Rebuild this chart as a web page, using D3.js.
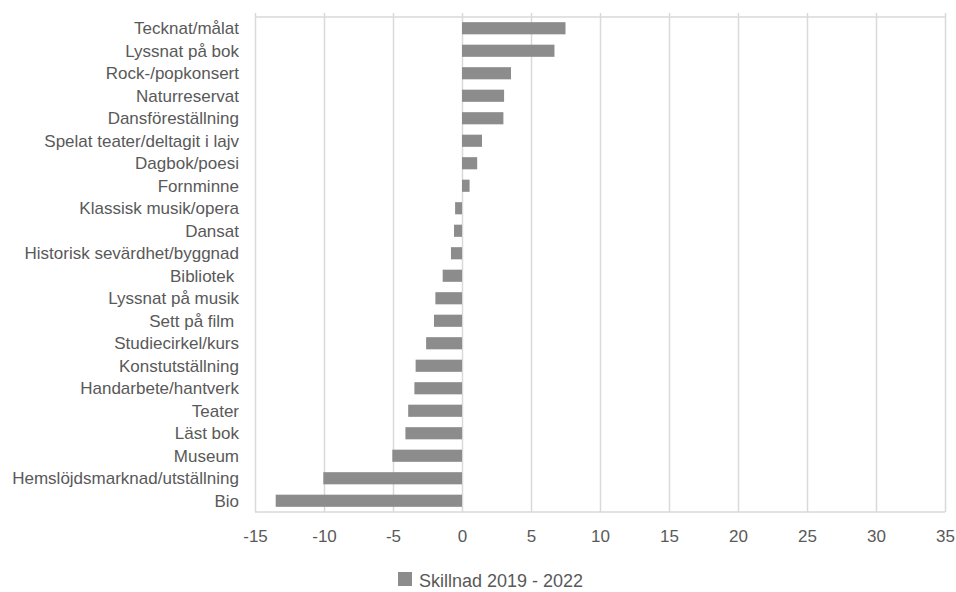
<!DOCTYPE html>
<html>
<head>
<meta charset="utf-8">
<script src="https://cdn.jsdelivr.net/npm/d3@7"></script>
<style>
  body { margin: 0; background: #fff; }
  text { font-family: "Liberation Sans", Arial, sans-serif; fill: #595959; }
</style>
</head>
<body>
<svg id="chart" width="956" height="592"></svg>
<script>
// Kategorier uppifrån och ned, som i diagrammet
const categories = [
  'Tecknat/målat', 'Lyssnat på bok', 'Rock-/popkonsert', 'Naturreservat',
  'Dansföreställning', 'Spelat teater/deltagit i lajv', 'Dagbok/poesi', 'Fornminne',
  'Klassisk musik/opera', 'Dansat', 'Historisk sevärdhet/byggnad', 'Bibliotek ',
  'Lyssnat på musik', 'Sett på film ', 'Studiecirkel/kurs', 'Konstutställning',
  'Handarbete/hantverk', 'Teater', 'Läst bok', 'Museum',
  'Hemslöjdsmarknad/utställning', 'Bio'
];
const diffValues = [
  7.5, 6.7, 3.55, 3.05, 3.0, 1.45, 1.1, 0.55,
  -0.5, -0.58, -0.8, -1.4, -1.93, -2.03, -2.6, -3.36,
  -3.45, -3.9, -4.1, -5.05, -10.05, -13.5
];
const xTicks = [-15, -10, -5, 0, 5, 10, 15, 20, 25, 30, 35];
const seriesName = 'Skillnad 2019 - 2022';

const svg = d3.select('#chart');
const margin = { left: 255, right: 11, top: 17, bottom: 80 };
const width = 956 - margin.left - margin.right;
const height = 592 - margin.top - margin.bottom;

const x = d3.scaleLinear().domain([-15, 35]).range([0, width]);
const y = d3.scaleBand().domain(categories).range([0, height]).paddingInner(0.46).paddingOuter(0.23);

const g = svg.append('g').attr('transform', `translate(${margin.left},${margin.top})`);

// Rutnät
g.selectAll('.grid')
  .data(xTicks)
  .enter().append('line')
  .attr('class', 'grid')
  .attr('x1', (d) => Math.round(x(d)) + 0.5)
  .attr('x2', (d) => Math.round(x(d)) + 0.5)
  .attr('y1', -4)
  .attr('y2', height)
  .attr('stroke', '#d9d9d9')
  .attr('stroke-width', 1.5);

[0, height].forEach((yy) => {
  g.append('line')
    .attr('x1', 0).attr('x2', width)
    .attr('y1', yy).attr('y2', yy)
    .attr('stroke', '#d9d9d9')
    .attr('stroke-width', 1.5);
});

// Staplar
g.selectAll('.bar')
  .data(diffValues)
  .enter().append('rect')
  .attr('class', 'bar')
  .attr('x', (d) => x(Math.min(0, d)))
  .attr('y', (d, i) => y(categories[i]))
  .attr('width', (d) => Math.abs(x(d) - x(0)))
  .attr('height', y.bandwidth())
  .attr('fill', '#8c8c8c');

// Kategorietiketter
g.selectAll('.cat')
  .data(categories)
  .enter().append('text')
  .attr('class', 'cat')
  .attr('x', -16)
  .attr('y', (d) => y(d) + y.bandwidth() / 2)
  .attr('dy', '0.35em')
  .attr('text-anchor', 'end')
  .style('font-size', '17px')
  .style('white-space', 'pre')
  .text((d) => d);

// X-axelns etiketter (vanligt bindestreck som minustecken)
const xAxis = d3.axisBottom(x)
  .tickValues(xTicks)
  .tickFormat((d) => String(d))
  .tickSize(0)
  .tickPadding(18);
const xg = g.append('g').attr('transform', `translate(0,${height})`).call(xAxis);
xg.select('.domain').remove();
xg.selectAll('text')
  .style('font-size', '17px')
  .style('font-family', '"Liberation Sans", Arial, sans-serif')
  .attr('fill', '#595959');

// Förklaring
const legend = svg.append('g').attr('transform', 'translate(398,572)');
legend.append('rect').attr('width', 14).attr('height', 14).attr('fill', '#8c8c8c');
legend.append('text')
  .attr('x', 21)
  .attr('y', 15)
  .style('font-size', '18px')
  .text(seriesName);
</script>
</body>
</html>
